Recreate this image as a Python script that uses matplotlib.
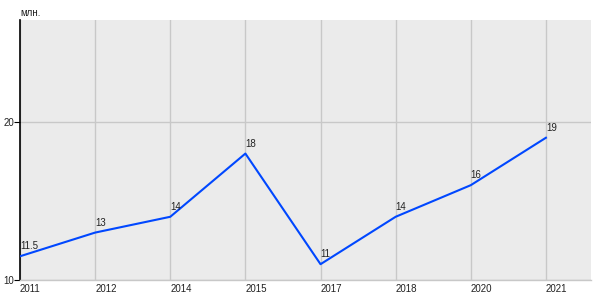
import matplotlib
matplotlib.use("Agg")
import matplotlib.pyplot as plt

years = ["2011", "2012", "2014", "2015", "2017", "2018", "2020", "2021"]
values = [11.5, 13, 14, 18, 11, 14, 16, 19]
value_labels = ["11.5", "13", "14", "18", "11", "14", "16", "19"]
y_ticks = [10, 20]
unit = "млн."

plt.rcParams['font.family'] = ['Liberation Sans', 'DejaVu Sans']

fig = plt.figure(figsize=(6, 3), dpi=100)
ax = fig.add_axes([20/600, 20/300, 571/600, 260/300])
ax.set_facecolor("#ebebeb")

x = list(range(len(years)))
ax.plot(x, values, color="#0047ff", lw=1.5, zorder=3)
for xi, v, lab in zip(x, values, value_labels):
    ax.annotate(lab, (xi, v), xytext=(0, 3.5), textcoords="offset points",
                ha="left", va="bottom", fontsize=7, color="#222222")

ax.set_xlim(0, 7.6)
ax.set_ylim(10, 26.45)
ax.set_xticks(x)
ax.set_xticklabels(years, ha="left", fontsize=7, color="#222222")
ax.set_yticks(y_ticks)
ax.set_yticklabels([str(t) for t in y_ticks], fontsize=7, color="#222222")
ax.tick_params(axis="x", length=0, pad=3)
ax.tick_params(axis="y", length=4, width=0.8, pad=0, color="black")
ax.grid(True, color="#c8c8c8", lw=1)
ax.set_axisbelow(True)
for s in ["top", "right"]:
    ax.spines[s].set_visible(False)
ax.spines["left"].set_color("black")
ax.spines["left"].set_linewidth(1.2)
ax.spines["bottom"].set_color("#c8c8c8")
ax.spines["bottom"].set_linewidth(1)

fig.text(20/600, 1 - 13/300, unit, fontsize=7, color="#222222", ha="left", va="center")

fig.savefig("out.png", dpi=100)
